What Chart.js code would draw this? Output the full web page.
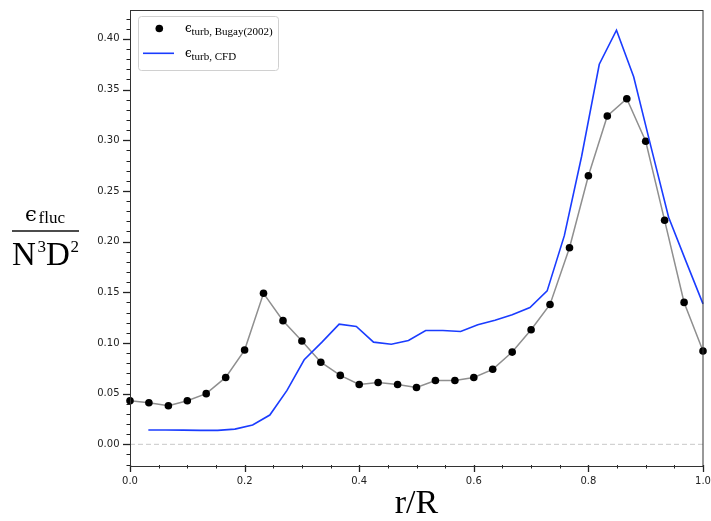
<!DOCTYPE html>
<html><head><meta charset="utf-8">
<script src="https://cdn.jsdelivr.net/npm/chart.js@4/dist/chart.umd.min.js"></script>
<style>
html,body{margin:0;padding:0;background:#fff;}
#wrap{position:relative;width:711px;height:521px;overflow:hidden;}
#c{position:absolute;left:0;top:0;}
#ov{position:absolute;left:0;top:0;pointer-events:none;}
</style></head><body>
<div id="wrap">
<canvas id="c" width="711" height="521"></canvas>
<svg id="ov" width="711" height="521" xmlns="http://www.w3.org/2000/svg">
  <!-- legend -->
  <rect x="138.5" y="16.5" width="140" height="54" rx="3" ry="3" fill="rgba(255,255,255,0.85)" stroke="#d0d0d0" stroke-width="1"/>
  <circle cx="159.3" cy="28.5" r="3.8" fill="#000"/>
  <line x1="143" y1="53.3" x2="174" y2="53.3" stroke="#1a3cff" stroke-width="1.6"/>
  <text x="185" y="31.5" font-family="DejaVu Serif" font-size="12" fill="#000">ϵ</text>
  <text x="191.5" y="35" font-family="Liberation Serif" font-size="11" fill="#000">turb, Bugay(2002)</text>
  <text x="185" y="57" font-family="DejaVu Serif" font-size="12" fill="#000">ϵ</text>
  <text x="191.5" y="60" font-family="Liberation Serif" font-size="11" fill="#000">turb, CFD</text>
  <!-- y title -->
  <text x="25" y="221" font-family="DejaVu Serif" font-size="21" fill="#000">ϵ</text>
  <text x="38.5" y="223" font-family="Liberation Serif" font-size="17" fill="#000">fluc</text>
  <rect x="12" y="230.3" width="67" height="1.4" fill="#000"/>
  <text x="12" y="265" font-family="Liberation Serif" font-size="33" fill="#000">N</text>
  <text x="37.5" y="251.7" font-family="Liberation Serif" font-size="17" fill="#000">3</text>
  <text x="46" y="265" font-family="Liberation Serif" font-size="33" fill="#000">D</text>
  <text x="70.5" y="251.7" font-family="Liberation Serif" font-size="17" fill="#000">2</text>
  <!-- x title -->
  <text x="416.5" y="513" text-anchor="middle" font-family="Liberation Serif" font-size="34" fill="#000">r/R</text>
</svg>
</div>
<script>
// Bugay (2002) measurements
const bugayR = [0.000, 0.033, 0.067, 0.100, 0.133, 0.167, 0.200, 0.233, 0.267, 0.300,
                0.333, 0.367, 0.400, 0.433, 0.467, 0.500, 0.533, 0.567, 0.600, 0.633,
                0.667, 0.700, 0.733, 0.767, 0.800, 0.833, 0.867, 0.900, 0.933, 0.967, 1.000];
const bugayEps = [0.043, 0.041, 0.038, 0.043, 0.050, 0.066, 0.093, 0.149, 0.122, 0.102,
                  0.081, 0.068, 0.059, 0.061, 0.059, 0.056, 0.063, 0.063, 0.066, 0.074,
                  0.091, 0.113, 0.138, 0.194, 0.265, 0.324, 0.341, 0.299, 0.221, 0.140, 0.092];
// CFD
const cfdR = [0.032, 0.062, 0.093, 0.123, 0.153, 0.183, 0.214, 0.244, 0.274, 0.304,
              0.335, 0.365, 0.395, 0.425, 0.456, 0.486, 0.516, 0.546, 0.577, 0.607,
              0.637, 0.667, 0.698, 0.728, 0.758, 0.788, 0.819, 0.849, 0.879, 0.909,
              0.940, 0.970, 1.000];
const cfdEps = [0.0141, 0.0141, 0.0140, 0.0138, 0.0138, 0.0150, 0.0190, 0.0289, 0.0532, 0.0834,
                0.1008, 0.1185, 0.1163, 0.1008, 0.0988, 0.1025, 0.1123, 0.1123, 0.1113, 0.1179,
                0.1225, 0.1278, 0.1350, 0.1514, 0.2059, 0.2837, 0.3750, 0.4086, 0.3626, 0.2940,
                0.2240, 0.1810, 0.1386];
// zero reference line
const zeroR = [0, 1];
const zeroEps = [0, 0];
// axes
const xMin = 0, xMax = 1, xMajorStep = 0.2, xMinorStep = 0.05;
const yMin = -0.0204, yMax = 0.429, yMajorStep = 0.05, yMinorStep = 0.01;

const pts = (xs, ys) => xs.map((v, i) => ({x: v, y: ys[i]}));

const tickPlugin = {
  id: 'mplTicks',
  afterDraw(chart) {
    const {ctx, chartArea: a, scales: {x, y}} = chart;
    ctx.save();
    ctx.strokeStyle = '#222';
    // y ticks
    const ny0 = Math.ceil(yMin / yMinorStep - 1e-9), ny1 = Math.floor(yMax / yMinorStep + 1e-9);
    const perY = Math.round(yMajorStep / yMinorStep);
    for (let k = ny0; k <= ny1; k++) {
      const major = k % perY === 0;
      const py = Math.round(y.getPixelForValue(k * yMinorStep)) + 0.5;
      ctx.lineWidth = major ? 1.3 : 1;
      ctx.beginPath();
      ctx.moveTo(a.left - (major ? 7 : 3.5), py);
      ctx.lineTo(a.left, py);
      ctx.stroke();
    }
    // x ticks
    const nx = Math.round((xMax - xMin) / xMinorStep);
    const perX = Math.round(xMajorStep / xMinorStep);
    for (let k = 0; k <= nx; k++) {
      const major = k % perX === 0;
      const px = Math.round(x.getPixelForValue(xMin + k * xMinorStep)) + 0.5;
      ctx.lineWidth = major ? 1.3 : 1;
      ctx.beginPath();
      ctx.moveTo(px, a.bottom);
      ctx.lineTo(px, a.bottom + (major ? 7 : 3.5));
      ctx.stroke();
    }
    // frame
    ctx.lineWidth = 1;
    ctx.strokeStyle = '#333';
    ctx.strokeRect(Math.round(a.left) + 0.5, Math.round(a.top) + 0.5,
                   Math.round(a.right - a.left) - 0.5, Math.round(a.bottom - a.top));
    ctx.restore();
  }
};

new Chart(document.getElementById('c'), {
  type: 'scatter',
  data: {
    datasets: [
      {label: 'CFD', data: pts(cfdR, cfdEps), showLine: true, borderColor: '#1a3cff',
       borderWidth: 1.6, pointRadius: 0, fill: false, order: 1, clip: false, tension: 0},
      {label: 'Bugay(2002)', data: pts(bugayR, bugayEps), showLine: true, borderColor: '#8f8f8f',
       borderWidth: 1.5, pointRadius: 3.8, pointBackgroundColor: '#000', pointBorderColor: '#000',
       pointBorderWidth: 0, fill: false, order: 2, clip: false, tension: 0},
      {label: 'zero', data: pts(zeroR, zeroEps), showLine: true, borderColor: '#c8c8c8',
       borderWidth: 1, borderDash: [5, 3], pointRadius: 0, fill: false, order: 3}
    ]
  },
  options: {
    responsive: false,
    animation: false,
    devicePixelRatio: 1,
    layout: {autoPadding: false, padding: {top: 9.5, right: 8, left: 0, bottom: 0}},
    plugins: {legend: {display: false}, tooltip: {enabled: false}, title: {display: false}},
    scales: {
      x: {
        type: 'linear', min: xMin, max: xMax,
        afterFit(s) { s.height = 56; s.paddingLeft = 0; s.paddingRight = 0; },
        grid: {display: false, drawTicks: false},
        border: {display: false},
        ticks: {stepSize: xMajorStep, padding: 10, color: '#222', maxRotation: 0, autoSkip: false,
                font: {family: 'DejaVu Sans', size: 10},
                callback: v => Number(v).toFixed(1)}
      },
      y: {
        type: 'linear', min: yMin, max: yMax,
        afterFit(s) { s.width = 130; s.paddingTop = 0; s.paddingBottom = 0; },
        grid: {display: false, drawTicks: false},
        border: {display: false},
        ticks: {stepSize: yMajorStep, includeBounds: false, padding: 10.5, color: '#222',
                font: {family: 'DejaVu Sans', size: 10},
                callback: v => Math.abs(v) < 1e-9 ? '0.00' : Number(v).toFixed(2)}
      }
    }
  },
  plugins: [tickPlugin]
});
</script>
</body></html>
